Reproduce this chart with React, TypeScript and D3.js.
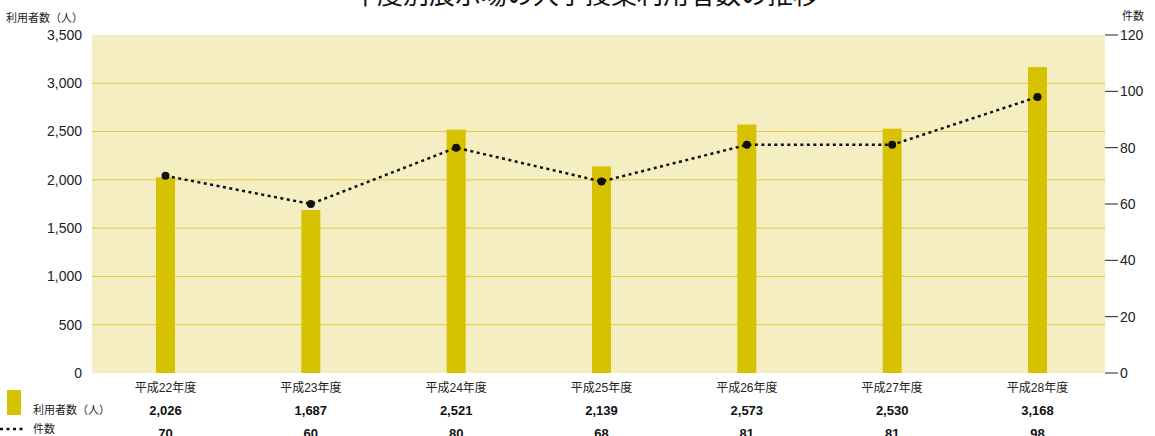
import React, { useRef, useEffect } from 'react';
import * as d3 from 'd3';

const categories = ['平成22年度', '平成23年度', '平成24年度', '平成25年度', '平成26年度', '平成27年度', '平成28年度'];
const users = [2026, 1687, 2521, 2139, 2573, 2530, 3168];
const counts = [70, 60, 80, 68, 81, 81, 98];
const leftTicks = [0, 500, 1000, 1500, 2000, 2500, 3000, 3500];
const rightTicks = [0, 20, 40, 60, 80, 100, 120];

const FONT = '"Liberation Sans", Arial, "Noto Sans CJK JP", sans-serif';

export default function App() {
  const ref = useRef<SVGSVGElement>(null);

  useEffect(() => {
    const svg = d3.select(ref.current);
    svg.selectAll('*').remove();

    const W = 1155, H = 436;
    const left = 92, right = 1105, top = 35, bottom = 373;

    svg.attr('width', W).attr('height', H).attr('viewBox', `0 0 ${W} ${H}`)
      .style('font-family', FONT);

    const x = d3.scalePoint<string>().domain(categories).range([165.5, 1037.5]);
    const yL = d3.scaleLinear().domain([0, 3500]).range([bottom, top]);
    const yR = d3.scaleLinear().domain([0, 120]).range([bottom, top]);

    // title (cut off at top)
    svg.append('text')
      .attr('x', 585).attr('y', 4)
      .attr('text-anchor', 'middle')
      .style('font-size', '26px')
      .attr('fill', '#111')
      .text('年度別展示場の大学授業利用者数の推移');

    // plot background
    svg.append('rect')
      .attr('x', left).attr('y', top)
      .attr('width', right - left).attr('height', bottom - top)
      .attr('fill', '#f5eec3');

    // gridlines
    svg.append('g').selectAll('line')
      .data(leftTicks.filter(d => d > 0 && d < 3500))
      .join('line')
        .attr('x1', left).attr('x2', right)
        .attr('y1', d => yL(d)).attr('y2', d => yL(d))
        .attr('stroke', '#e3cb3a')
        .attr('stroke-width', 1);

    // left axis labels
    svg.append('g').selectAll('text')
      .data(leftTicks)
      .join('text')
        .attr('x', 82).attr('y', d => yL(d))
        .attr('dy', '0.35em')
        .attr('text-anchor', 'end')
        .style('font-size', '14px')
        .attr('fill', '#222')
        .text(d => d3.format(',')(d));

    svg.append('text')
      .attr('x', 83).attr('y', 22)
      .attr('text-anchor', 'end')
      .style('font-size', '11px')
      .attr('fill', '#222')
      .text('利用者数（人）');

    // right axis
    const ra = svg.append('g');
    ra.selectAll('line')
      .data(rightTicks)
      .join('line')
        .attr('x1', right).attr('x2', right + 13)
        .attr('y1', d => yR(d)).attr('y2', d => yR(d))
        .attr('stroke', '#222')
        .attr('stroke-width', 1);
    ra.selectAll('text')
      .data(rightTicks)
      .join('text')
        .attr('x', right + 15).attr('y', d => yR(d))
        .attr('dy', '0.35em')
        .style('font-size', '14px')
        .attr('fill', '#222')
        .text(d => d);
    svg.append('text')
      .attr('x', 1122).attr('y', 20)
      .style('font-size', '11px')
      .attr('fill', '#222')
      .text('件数');

    // bars
    const bw = 19;
    svg.append('g').selectAll('rect')
      .data(users)
      .join('rect')
        .attr('x', (d, i) => x(categories[i])! - bw / 2)
        .attr('y', d => yL(d))
        .attr('width', bw)
        .attr('height', d => bottom - yL(d))
        .attr('fill', '#d6c200');

    // line
    const line = d3.line<number>()
      .x((d, i) => x(categories[i])!)
      .y(d => yR(d));
    svg.append('path')
      .datum(counts)
      .attr('d', line)
      .attr('fill', 'none')
      .attr('stroke', '#111')
      .attr('stroke-width', 2.5)
      .attr('stroke-dasharray', '3,3.5');
    svg.append('g').selectAll('circle')
      .data(counts)
      .join('circle')
        .attr('cx', (d, i) => x(categories[i])!)
        .attr('cy', d => yR(d))
        .attr('r', 4)
        .attr('fill', '#111');

    // table below
    const tbl = svg.append('g');
    tbl.selectAll('text.cat')
      .data(categories)
      .join('text')
        .attr('class', 'cat')
        .attr('x', d => x(d)!).attr('y', 392)
        .attr('text-anchor', 'middle')
        .style('font-size', '12px')
        .attr('fill', '#222')
        .text(d => d);
    tbl.selectAll('text.users')
      .data(users)
      .join('text')
        .attr('class', 'users')
        .attr('x', (d, i) => x(categories[i])!).attr('y', 415)
        .attr('text-anchor', 'middle')
        .style('font-size', '13px')
        .style('font-weight', 'bold')
        .attr('fill', '#111')
        .text(d => d3.format(',')(d));
    tbl.selectAll('text.counts')
      .data(counts)
      .join('text')
        .attr('class', 'counts')
        .attr('x', (d, i) => x(categories[i])!).attr('y', 438)
        .attr('text-anchor', 'middle')
        .style('font-size', '13px')
        .style('font-weight', 'bold')
        .attr('fill', '#111')
        .text(d => d);

    // legend
    svg.append('rect')
      .attr('x', 7).attr('y', 390).attr('width', 14).attr('height', 25)
      .attr('fill', '#d6c200');
    svg.append('text')
      .attr('x', 33).attr('y', 414)
      .style('font-size', '11px').attr('fill', '#222')
      .text('利用者数（人）');
    svg.append('line')
      .attr('x1', 0).attr('x2', 25).attr('y1', 429).attr('y2', 429)
      .attr('stroke', '#111').attr('stroke-width', 2.5)
      .attr('stroke-dasharray', '3,3.5');
    svg.append('text')
      .attr('x', 33).attr('y', 433)
      .style('font-size', '11px').attr('fill', '#222')
      .text('件数');
  }, []);

  return <svg ref={ref} style={{ position: 'absolute', left: 0, top: 0 }} />;
}
